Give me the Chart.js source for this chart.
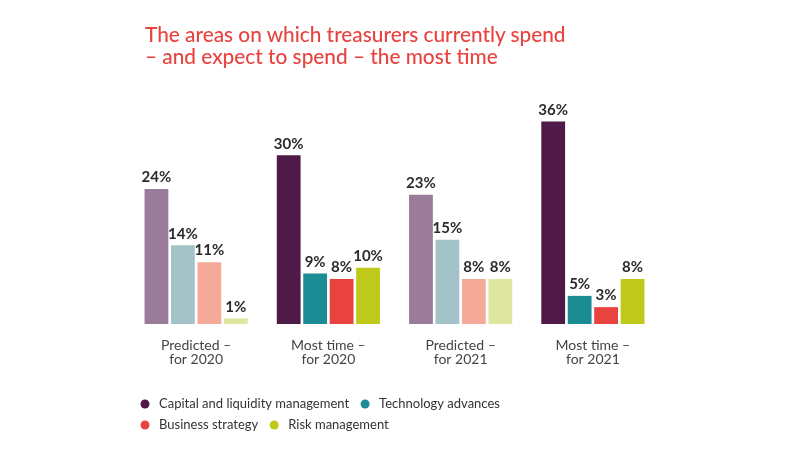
<!DOCTYPE html>
<html>
<head>
<meta charset="utf-8">
<script src="https://cdn.jsdelivr.net/npm/chart.js@4"></script>
<style>
  html, body { margin: 0; padding: 0; background: #fff; }
  #wrap { position: relative; width: 792px; height: 456px; }
  #title { position: absolute; left: 145px; top: 23px; color: #e8433f; font: 500 20.8px Lato, "Open Sans", sans-serif; line-height: 22px; }
  canvas { position: absolute; left: 0; top: 0; }
</style>
</head>
<body>
<div id="wrap">
  <canvas id="chart" width="792" height="456"></canvas>
  <div id="title">The areas on which treasurers currently spend<br>– and expect to spend – the most time</div>
</div>
<script>
// categories (two-line tick labels)
var periods = [['Predicted –', 'for 2020'], ['Most time –', 'for 2020'], ['Predicted –', 'for 2021'], ['Most time –', 'for 2021']];
var series = ['Capital and liquidity management', 'Technology advances', 'Business strategy', 'Risk management'];

// values in % per series, one per period
var capital = [24, 30, 23, 36];
var technology = [14, 9, 15, 5];
var business = [11, 8, 8, 3];
var risk = [1, 10, 8, 8];

// full colours for "most time", faded ones for "predicted"
var darkColors = ['#4f1a47', '#1b8b94', '#e8433f', '#bfc91a'];
var lightColors = ['#9a7b99', '#a3c3c9', '#f5a998', '#dfe6a0'];
var isPredicted = [true, false, true, false];

function colorsFor(i) {
  return isPredicted.map(function (p) { return p ? lightColors[i] : darkColors[i]; });
}

var valueLabels = {
  id: 'valueLabels',
  afterDatasetsDraw: function (chart) {
    var ctx = chart.ctx;
    ctx.save();
    ctx.font = 'bold 15px Lato, "Open Sans", sans-serif';
    ctx.fillStyle = '#2b2b2b';
    ctx.textAlign = 'center';
    ctx.textBaseline = 'bottom';
    chart.data.datasets.forEach(function (ds, i) {
      chart.getDatasetMeta(i).data.forEach(function (bar, j) {
        ctx.fillText(ds.data[j] + '%', bar.x, bar.y - 4);
      });
    });
    ctx.restore();
  }
};

// legend with dots, two items per row
var dotLegend = {
  id: 'dotLegend',
  afterDraw: function (chart) {
    var ctx = chart.ctx;
    ctx.save();
    ctx.font = '13px Lato, "Open Sans", sans-serif';
    ctx.textBaseline = 'middle';
    var rows = [[0, 1], [2, 3]];
    rows.forEach(function (row, r) {
      var x = 145, y = 404 + r * 21;
      row.forEach(function (i) {
        ctx.fillStyle = darkColors[i];
        ctx.beginPath();
        ctx.arc(x, y, 4.5, 0, Math.PI * 2);
        ctx.fill();
        ctx.fillStyle = '#333';
        ctx.fillText(chart.data.datasets[i].label, x + 14, y);
        x += 14 + ctx.measureText(chart.data.datasets[i].label).width + 16;
      });
    });
    ctx.restore();
  }
};

var data = [capital, technology, business, risk];

new Chart(document.getElementById('chart'), {
  type: 'bar',
  data: {
    labels: periods,
    datasets: data.map(function (d, i) {
      return { label: series[i], data: d, backgroundColor: colorsFor(i), borderWidth: 0,
        categoryPercentage: 0.8, barPercentage: 0.9 };
    })
  },
  options: {
    responsive: false,
    animation: false,
    layout: { padding: { left: 130, right: 133, top: 99, bottom: 84 } },
    plugins: { legend: { display: false }, tooltip: { enabled: false } },
    scales: {
      x: {
        grid: { display: false }, border: { display: false },
        ticks: { color: '#444', padding: 6, font: { family: 'Lato, "Open Sans", sans-serif', size: 14, lineHeight: 1.0 } }
      },
      y: { display: false, min: 0, max: 40 }
    }
  },
  plugins: [valueLabels, dotLegend]
});
</script>
</body>
</html>
